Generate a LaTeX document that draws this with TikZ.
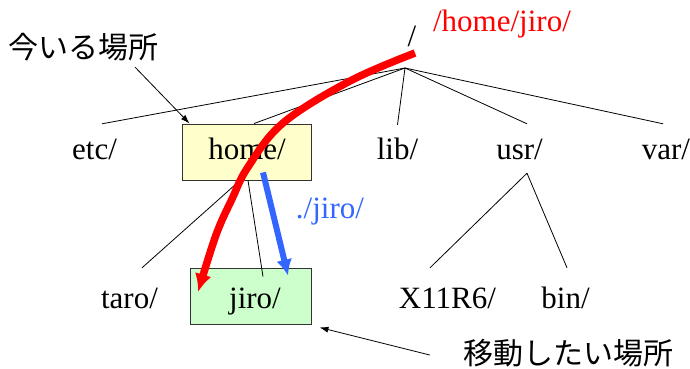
\documentclass[tikz,border=0pt]{standalone}
\usepackage{fontspec}
\setmainfont{Liberation Serif}
\newfontfamily\cjk{Noto Sans CJK JP}
\usetikzlibrary{arrows.meta}
\definecolor{boxyellow}{RGB}{255,255,204}
\definecolor{boxgreen}{RGB}{204,255,204}
\definecolor{pathblue}{RGB}{51,102,255}
\begin{document}
\begin{tikzpicture}[x=1pt,y=-1pt,
  lbl/.style={font=\fontsize{31}{36}\selectfont, anchor=base, inner sep=0pt, text height=22pt, text depth=7pt},
  jp/.style={font=\cjk\fontsize{30}{35}\selectfont, inner sep=0pt},
  dirbox/.style={draw=black!80, line width=0.9pt, minimum width=#1, minimum height=56pt, inner sep=0pt},
  tree/.style={line width=0.8pt},
  note/.style={line width=0.8pt, -{Latex[length=9pt,width=6pt]}}]
\useasboundingbox (0,0) rectangle (690,369);
% boxes
\node[dirbox=129pt, fill=boxyellow] (homebox) at (246.5,152) {};
\node[dirbox=121pt, fill=boxgreen] (jirobox) at (250.5,296) {};
% labels
\node[lbl] (root) at (412,47) {/};
\node[lbl, text=red] (abs) at (502,32) {/home/jiro/};
\node[lbl] (etc) at (94.5,159) {etc/};
\node[lbl] (home) at (247,159) {home/};
\node[lbl] (lib) at (397.5,159) {lib/};
\node[lbl] (usr) at (519.5,159) {usr/};
\node[lbl] (var) at (666,159) {var/};
\node[lbl] (taro) at (129.5,308) {taro/};
\node[lbl] (jiro) at (255,308) {jiro/};
\node[lbl] (x11) at (447.5,308) {X11R6/};
\node[lbl] (bin) at (565.5,308) {bin/};
\node[lbl, text=pathblue] (rel) at (330,218) {./jiro/};
\node[jp] (now) at (84,47) {今いる場所};
\node[jp] (target) at (568,353) {移動したい場所};
% tree
\coordinate (rootpt) at ([shift={(-7pt,-21pt)}]root.base);
\draw[tree] (rootpt) -- ([shift={(7.5pt,13pt)}]etc.north);
\draw[tree] (rootpt) -- ([xshift=7.5pt]homebox.north);
\draw[tree] (rootpt) -- ([yshift=12pt]lib.north);
\draw[tree] (rootpt) -- ([shift={(7.5pt,13pt)}]usr.north);
\draw[tree] (rootpt) -- ([shift={(-3pt,13pt)}]var.north);
\draw[tree] ([xshift=-6.5pt]homebox.south) -- ([shift={(12.5pt,18pt)}]taro.north);
\draw[tree] ([xshift=1.5pt]homebox.south) -- ([shift={(12.5pt,-9pt)}]jirobox.north);
\draw[tree] ([shift={(7.5pt,-7pt)}]usr.south) -- ([shift={(-17.5pt,18pt)}]x11.north);
\draw[tree] ([shift={(7.5pt,-7pt)}]usr.south) -- ([shift={(1.5pt,18pt)}]bin.north);
% notes
\draw[note] ([shift={(51pt,-6pt)}]now.south) -- ([xshift=8pt]homebox.north west);
\draw[note] ([shift={(-33pt,-2pt)}]target.west) -- ([shift={(8pt,-3pt)}]jirobox.south east);
% paths
\draw[pathblue, line width=6pt, -{Latex[length=16pt,width=16pt]}]
  ([shift={(16.5pt,8pt)}]homebox.south) -- ([shift={(37.5pt,-8pt)}]jirobox.north);
\draw[red, line width=7.5pt, -{Latex[length=18pt,width=17pt]}]
  plot[smooth, tension=0.6] coordinates {(415,53) (350,81) (283,123) (248,167) (232,199) (216,235) (198,292)};
\end{tikzpicture}
\end{document}
